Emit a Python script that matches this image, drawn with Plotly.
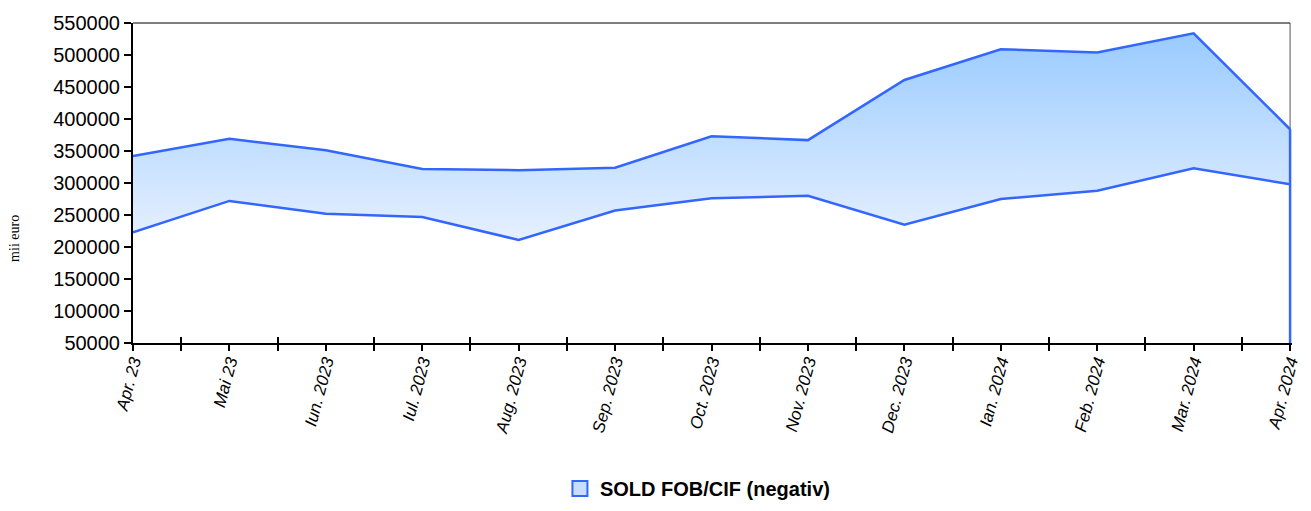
import plotly.graph_objects as go

categories = ["Apr. 23", "Mai 23", "Iun. 2023", "Iul. 2023", "Aug. 2023", "Sep. 2023",
              "Oct. 2023", "Nov. 2023", "Dec. 2023", "Ian. 2024", "Feb. 2024", "Mar. 2024", "Apr. 2024"]
upper = [342000, 369000, 351000, 322000, 320000, 324000, 373000, 367000, 461000, 509000, 504000, 534000, 384000]
lower = [223000, 272000, 252000, 247000, 211000, 257000, 276000, 280000, 235000, 275000, 288000, 323000, 298000]
series_name = "SOLD FOB/CIF (negativ)"
y_min, y_max, y_step = 50000, 550000, 50000

idx = list(range(len(categories)))
mids = [i + 0.5 for i in idx[:-1]]
x_range = [idx[0], idx[-1] + 0.02]
LINE = "#3366FF"
FONT = "Liberation Sans, Arial, sans-serif"

fig = go.Figure()
fig.add_trace(go.Scatter(x=idx, y=lower, mode="lines", line=dict(color=LINE, width=2.5),
                         showlegend=False, hoverinfo="skip"))
fig.add_trace(go.Scatter(x=idx, y=upper, mode="lines", line=dict(color=LINE, width=2.5),
                         fill="tonexty",
                         fillgradient=dict(type="vertical",
                                           colorscale=[[0, "#E6F0FF"], [1, "#99CBFF"]],
                                           start=min(lower), stop=max(upper)),
                         showlegend=False, name=series_name))
# right edge of the area down to the axis
fig.add_trace(go.Scatter(x=[idx[-1], idx[-1]], y=[upper[-1], y_min], mode="lines",
                         line=dict(color=LINE, width=2.5), showlegend=False, hoverinfo="skip"))
# legend entry
fig.add_trace(go.Scatter(x=[None], y=[None], mode="markers", name=series_name,
                         marker=dict(symbol="square", size=15, color="#C8DEFF",
                                     line=dict(color=LINE, width=2))))
# dummy trace on xaxis2 so the overlay axis is drawn
fig.add_trace(go.Scatter(x=[None], y=[None], xaxis="x2", showlegend=False, hoverinfo="skip"))

fig.update_layout(
    width=1295, height=495,
    margin=dict(l=125, r=11, t=15, b=160, autoexpand=False),
    plot_bgcolor="white", paper_bgcolor="white",
    font=dict(family=FONT, color="black"),
    showlegend=True,
    legend=dict(orientation="h", x=0.487, xanchor="center", y=-0.455, yanchor="middle",
                font=dict(family=FONT, size=20, color="black", weight="bold"),
                itemwidth=30, bgcolor="rgba(0,0,0,0)", borderwidth=0),
    xaxis=dict(range=x_range, tickmode="array", tickvals=idx, ticktext=categories,
               tickangle=-75, tickfont=dict(family=FONT, size=17, style="italic"),
               ticks="outside", ticklen=6, tickwidth=2, tickcolor="black",
               ticklabelstandoff=-6, ticklabeloverflow="allow",
               minor=dict(tickmode="array", tickvals=mids, ticks="outside", ticklen=6,
                          tickwidth=2, tickcolor="black"),
               automargin=False,
               showline=True, linecolor="black", linewidth=2, showgrid=False, zeroline=False),
    xaxis2=dict(range=x_range, overlaying="x", anchor="y", side="bottom",
                tickmode="array", tickvals=mids, ticks="inside", ticklen=6, tickwidth=2,
                tickcolor="black", showticklabels=False, showline=False, showgrid=False,
                zeroline=False, automargin=False),
    yaxis=dict(range=[y_min, y_max], dtick=y_step, tick0=y_min, tickformat="d",
               tickfont=dict(family=FONT, size=20),
               ticks="outside", ticklen=7, tickwidth=2, tickcolor="black",
               automargin=False,
               showline=True, linecolor="black", linewidth=2, showgrid=False, zeroline=False),
    shapes=[
        dict(type="line", xref="x", yref="paper", x0=idx[0], x1=idx[-1], y0=1, y1=1,
             line=dict(color="black", width=1)),
        dict(type="line", xref="x", yref="paper", x0=idx[-1], x1=idx[-1], y0=0, y1=1,
             line=dict(color="#555555", width=1), layer="below"),
    ],
    annotations=[dict(text="mii euro", xref="paper", yref="paper", x=-0.1028, y=0.328,
                      xanchor="center", yanchor="middle",
                      textangle=-90, showarrow=False,
                      font=dict(family="Liberation Serif, Times New Roman, serif", size=14,
                                color="black"))],
)

fig.write_html("out.html")
